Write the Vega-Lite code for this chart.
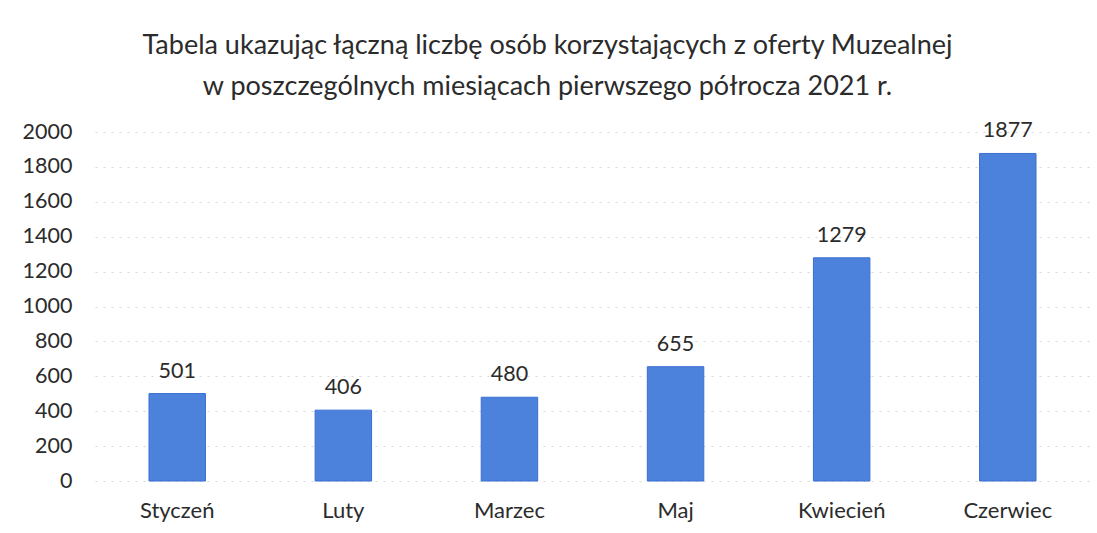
{
  "$schema": "https://vega.github.io/schema/vega-lite/v6.json",
  "autosize": "none",
  "width": 995,
  "height": 349,
  "padding": {"left": 95, "top": 132, "right": 7, "bottom": 52},
  "background": "white",
  "config": {
    "font": "Lato",
    "view": {"stroke": null}
  },
  "title": {
    "text": ["Tabela ukazując łączną liczbę osób korzystających z oferty Muzealnej", "w poszczególnych miesiącach pierwszego półrocza 2021 r."],
    "fontSize": 27,
    "fontWeight": "normal",
    "color": "#2b2b2b",
    "lineHeight": 41,
    "offset": 19,
    "dx": -45,
    "anchor": "middle",
    "font": "Lato"
  },
  "data": {
    "values": [
      {"miesiac": "Styczeń", "liczba": 501},
      {"miesiac": "Luty", "liczba": 406},
      {"miesiac": "Marzec", "liczba": 480},
      {"miesiac": "Maj", "liczba": 655},
      {"miesiac": "Kwiecień", "liczba": 1279},
      {"miesiac": "Czerwiec", "liczba": 1877}
    ]
  },
  "encoding": {
    "x": {
      "field": "miesiac",
      "type": "nominal",
      "sort": null,
      "scale": {"paddingInner": 0.66, "paddingOuter": 0.325},
      "axis": {
        "title": null,
        "labelAngle": 0,
        "labelFontSize": 22,
        "labelColor": "#2b2b2b",
        "labelPadding": 19,
        "ticks": false,
        "domain": false,
        "grid": false,
        "labelFont": "Lato"
      }
    },
    "y": {
      "field": "liczba",
      "type": "quantitative",
      "scale": {"domain": [0, 2000], "nice": false},
      "axis": {
        "title": null,
        "values": [0, 200, 400, 600, 800, 1000, 1200, 1400, 1600, 1800, 2000],
        "format": "d",
        "labelFontSize": 21.5,
        "labelColor": "#2b2b2b",
        "labelPadding": 23,
        "ticks": false,
        "domain": false,
        "grid": true,
        "gridColor": "#d6d6d6",
        "gridDash": [2, 6],
        "gridWidth": 1,
        "labelFont": "Lato"
      }
    }
  },
  "layer": [
    {
      "mark": {"type": "bar", "color": "#4d82dc", "stroke": "#3b6fd0", "strokeWidth": 1}
    },
    {
      "mark": {"type": "text", "baseline": "alphabetic", "dy": -16, "fontSize": 21.5, "color": "#2b2b2b", "font": "Lato"},
      "encoding": {"text": {"field": "liczba", "type": "quantitative", "format": "d"}}
    }
  ]
}
